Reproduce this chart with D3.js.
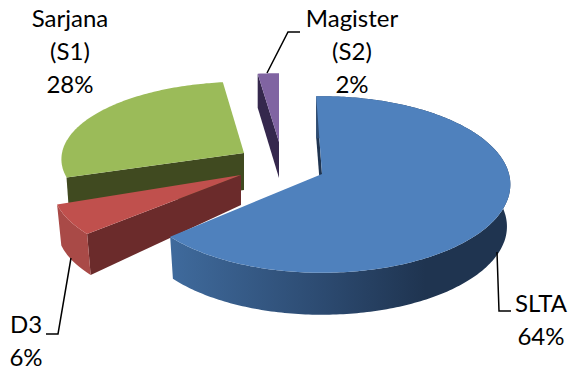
<!DOCTYPE html>
<html><head><meta charset="utf-8">
<script src="https://cdn.jsdelivr.net/npm/d3@7"></script>
<style>html,body{margin:0;padding:0;background:#fff}svg{display:block}</style>
</head><body><svg id="c" width="568" height="370"></svg>
<script>
const categories = ["SLTA","D3","Sarjana (S1)","Magister (S2)"];
const values = [64,6,28,2];
const labelLines = [["SLTA","64%"],["D3","6%"],["Sarjana","(S1)","28%"],["Magister","(S2)","2%"]];
const topColors = ["#4f81bd","#c0504d","#9bbb59","#8064a2"];
const wallColors = ["#1f3450","#6b2b2b","#404a20","#35284d"];

const layout = [
 {cx:322,cy:174,rx:187,ry:87,p:.119,rot:-2,d0:38,d1:42,k:.982,shift:0,outer:true,start:true},
 {cx:241,cy:175,rx:185,ry:77,p:.17,rot:-3,d0:30,d1:41,k:.977,shift:0,outer:true,start:true,outerColor:"#a94a47"},
 {cx:244,cy:153,rx:182,ry:77,p:.08,rot:0,d0:37,d1:37,k:.985,shift:0,start:true},
 {cx:279,cy:142,rx:190,ry:77,p:.119,rot:0,d0:36,d1:34,k:1,shift:0,start:true}
];
const labelPos = [
 {x:541,y:312},{x:26,y:333},{x:70,y:27},{x:352,y:27}
];
const leaders = [
 [[497,252],[499,311],[511,311]],
 [[71,258],[58,334],[46,334]],
 null,
 [[267,73],[288,32],[300,32]]
];

const svg = d3.select("#c");
const defs = svg.append("defs");
const g = defs.append("linearGradient").attr("id","blueWall")
 .attr("gradientUnits","userSpaceOnUse").attr("x1",172).attr("x2",510).attr("y1",0).attr("y2",0);
[[0,"#3f6a9c"],[.45,"#2c4a70"],[.75,"#1f3450"],[1,"#1f3450"]].forEach(s=>g.append("stop").attr("offset",s[0]).attr("stop-color",s[1]));

const arcs = d3.pie().sort(null).value(d=>d)(values);
const line = d3.line();

function proj(L,a){
  const u=Math.sin(a), v=Math.cos(a), s=1/(1+L.p*v);
  return [L.cx+L.rx*u*s, L.cy-L.ry*v*s];
}
function under(L,pt){
  return [L.cx+(pt[0]-L.cx)*L.k+L.shift/2, pt[1]+L.d1];
}
const order=[2,1,3,0];
order.forEach(i=>{
  const L=layout[i], A=arcs[i], r=L.rot*Math.PI/180;
  const a0=A.startAngle+r, a1=A.endAngle+r;
  const n=Math.max(4,Math.ceil((a1-a0)*60));
  const pts=d3.range(n+1).map(j=>proj(L,a0+(a1-a0)*j/n));
  const apex=[L.cx,L.cy], apexB=[L.cx+L.shift,L.cy+L.d0];
  if(L.start){
    const p=pts[0];
    svg.append("path").attr("d",line([p,apex,apexB,under(L,p)])+"Z").attr("fill",wallColors[i]);
  }
  if(L.outer){
    const b=pts.map(p=>under(L,p)).reverse();
    svg.append("path").attr("d",line(pts.concat(b))+"Z")
      .attr("fill",i===0?"url(#blueWall)":L.outerColor);
  }
  svg.append("path").attr("d",line([apex].concat(pts))+"Z").attr("fill",topColors[i]);
});
leaders.forEach(l=>{ if(l) svg.append("path").attr("d",line(l)).attr("fill","none").attr("stroke","#000").attr("stroke-width",1.5); });
labelLines.forEach((ls,i)=>{
  const P=labelPos[i];
  const t=svg.append("text").attr("text-anchor","middle").attr("font-family","Lato, 'Open Sans', sans-serif")
    .attr("font-size",24).attr("fill","#000");
  ls.forEach((s,j)=>t.append("tspan").attr("x",P.x).attr("y",P.y+j*33).text(s));
});
</script></body></html>
